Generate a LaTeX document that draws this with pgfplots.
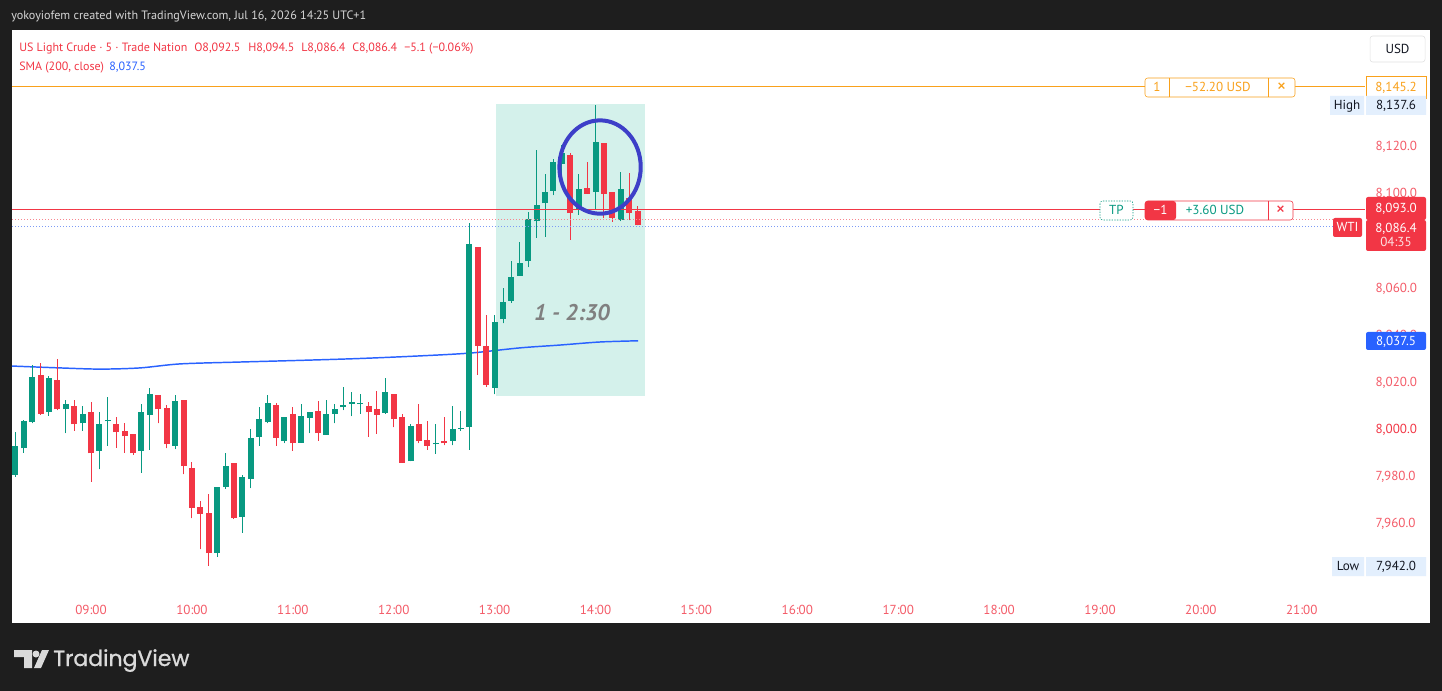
\documentclass[border=0pt]{standalone}
\usepackage{pgfplots}
\pgfplotsset{compat=1.18}
\usepackage{pgfplotstable}
\usepackage{fontspec}
\setmainfont{PT Sans}
\newfontfamily\logofont{Poppins}[FakeBold=1]

\definecolor{tvred}{HTML}{F23645}
\definecolor{tvgreen}{HTML}{089981}
\definecolor{tickred}{HTML}{F45B68}
\definecolor{tvblue}{HTML}{2962FF}
\definecolor{tvorange}{HTML}{F9A11B}
\definecolor{tealbg}{HTML}{D4F1EB}
\definecolor{circ}{HTML}{3D3FC8}
\definecolor{bgdark}{HTML}{1E1E1E}
\definecolor{hdrgray}{HTML}{D6D6D6}
\definecolor{lblue}{HTML}{E3EFFD}
\definecolor{dotblue}{HTML}{7D9BF5}
\definecolor{ink}{HTML}{131722}

% 5-minute candles, t = minutes after 08:00
\pgfplotstableread{
t O H L C
15 7980.5 7998.9 7979.8 7992.8
20 7991.8 8003.8 7990.0 8003.5
25 8003.0 8027.1 8002.4 8021.9
35 8007.1 8022.5 8005.7 8021.5
45 8008.3 8012.3 7998.2 8010.6
55 8002.4 8009.8 7999.3 8006.4
65 7990.8 8007.3 7982.9 8002.1
70 8003.2 8013.7 7992.8 8003.5
90 7990.8 8010.6 7981.5 8007.2
95 8006.1 8017.4 7991.3 8014.8
110 7992.8 8014.4 7991.5 8011.8
135 7947.6 7975.3 7945.9 7975.3
140 7975.3 7990.0 7974.7 7984.4
150 7962.8 7980.5 7956.0 7979.8
155 7978.7 7999.9 7974.9 7996.3
160 7996.7 8009.2 7992.8 8004.1
165 8002.8 8014.5 8002.4 8011.2
175 7994.9 8005.2 7994.0 8005.2
185 7994.2 8010.5 7994.2 8005.5
190 8004.7 8007.2 7998.2 8007.2
200 7997.6 8012.3 7997.6 8006.2
205 8006.4 8010.6 8002.4 8008.3
210 8009.2 8017.7 8008.0 8010.3
215 8010.5 8015.6 8005.5 8011.3
220 8010.5 8014.7 8006.4 8010.8
235 8006.9 8021.5 8006.4 8015.7
250 7986.4 8002.0 7986.4 8001.3
265 7993.5 8002.0 7989.4 7993.9
275 7994.9 8009.8 7993.1 8000.0
280 8000.1 8007.6 7999.3 8000.6
285 8001.0 8087.5 7991.1 8078.3
300 8017.5 8048.3 8014.7 8045.5
305 8046.5 8059.7 8044.8 8053.7
310 8054.3 8071.4 8053.6 8064.3
315 8064.9 8079.4 8064.9 8070.3
320 8071.2 8092.2 8068.6 8088.9
325 8088.1 8118.3 8081.1 8094.8
330 8095.7 8108.1 8081.6 8100.4
335 8101.1 8114.5 8099.2 8113.1
340 8112.5 8120.5 8108.0 8117.0
350 8092.9 8108.1 8090.8 8101.8
360 8100.6 8137.6 8092.9 8121.8
375 8088.6 8109.1 8088.2 8101.8
}\upbars

\pgfplotstableread{
t O H L C
30 8022.9 8028.1 8006.0 8006.4
40 8020.8 8029.7 8008.0 8008.3
50 8009.8 8012.3 7999.3 8002.0
60 8007.3 8011.6 7977.7 7989.7
75 8002.1 8005.2 7992.1 7998.6
80 7999.2 8002.4 7990.0 7996.9
85 7997.9 7998.0 7989.0 7989.7
100 8014.4 8014.6 8002.4 8008.3
105 8008.8 8010.2 7991.8 7993.6
115 8012.3 8012.5 7980.8 7984.3
120 7983.5 7985.9 7962.1 7966.5
125 7967.1 7969.6 7949.0 7964.0
130 7964.5 7972.4 7942.0 7947.3
145 7985.5 7985.6 7962.0 7962.1
170 8010.3 8010.9 7992.8 7996.2
180 8006.2 8009.2 7990.8 7993.9
195 8007.6 8011.7 7995.0 7998.1
225 8009.8 8011.6 7996.7 8007.1
230 8008.3 8016.2 7997.9 8006.1
240 8014.7 8014.8 8000.7 8004.1
245 8004.9 8006.4 7985.7 7985.7
255 8002.1 8010.5 7993.9 7994.9
260 7995.3 8003.5 7991.1 7992.8
270 7995.0 8005.2 7993.1 7993.9
290 8077.0 8077.2 8022.9 8035.2
295 8035.2 8048.3 8017.9 8018.7
345 8116.2 8116.9 8080.2 8091.5
355 8102.1 8113.4 8099.7 8099.7
365 8121.2 8121.3 8089.4 8099.7
370 8100.4 8100.5 8087.9 8089.4
380 8098.1 8108.5 8088.6 8091.5
385 8092.5 8094.5 8086.4 8086.4
}\downbars

\pgfplotsset{
  wick/.style={only marks, mark=none, mark size=0pt, draw=none, fill=none, forget plot,
    error bars/.cd, y dir=plus, y explicit, error mark=none,
    error bar style={line width=0.75pt, draw=#1}},
  body/.style={only marks, mark=none, mark size=0pt, draw=none, fill=none, forget plot,
    error bars/.cd, y dir=plus, y explicit, error mark=none,
    error bar style={line width=4.5pt, draw=#1}},
}
\tikzset{c/.style={anchor=center, inner sep=0pt, text height=6.6pt, text depth=0pt}}

\begin{document}
\begin{tikzpicture}
\path[use as bounding box] (0,0) rectangle (1081.5pt,-518.25pt);
\begin{scope}[x=0.75pt,y=-0.75pt]
  \fill[bgdark] (0,0) rectangle (1442,691);
  \fill[white] (12,30) rectangle (1430,623);
\end{scope}

\begin{axis}[
  at={(9pt,-444pt)}, anchor=south west,
  scale only axis, width=987pt, height=421.5pt,
  xmin=13.0, xmax=795.6, ymin=7930.87, ymax=8169.21,
  clip=false,
  axis line style={draw=none},
  major tick length=0pt,
  xtick={60,120,...,780},
  xticklabels={09:00,10:00,11:00,12:00,13:00,14:00,15:00,16:00,17:00,18:00,19:00,20:00,21:00},
  ytick={7960,7980,8000,8020,8040,8060,8100,8120},
  yticklabels={{7,960.0},{7,980.0},{\textcolor{tvred}{8,000.0}},{8,020.0},{8,040.0},{8,060.0},{8,100.0},{8,120.0}},
  yticklabel pos=right,
  ticklabel style={font=\fontsize{9.8}{11}\selectfont, text=tickred, inner sep=0pt, text depth=0pt},
  yticklabel style={anchor=west, xshift=35.5pt},
  xticklabel style={anchor=north, yshift=-9.4pt},
]
% time-range box
\fill[tealbg] (axis cs:300.8,8014.0) rectangle (axis cs:389.4,8137.8);
\node[font=\fontsize{17}{20}\selectfont\bfseries\itshape, text=black!50] at (axis cs:346,8049.2) {1 - 2:30};

% SMA (200, close)
\addplot[tvblue, line width=1.1pt, smooth] coordinates {
 (13.0,8026.7) (41.6,8025.9) (65.4,8025.4) (89.1,8025.9) (112.9,8027.6)
 (148.6,8028.4) (184.3,8029.1) (220.0,8029.9) (255.6,8031.0) (285.4,8032.2)
 (315.1,8034.4) (338.9,8035.6) (362.7,8036.9) (385.3,8037.4)};

% wicks
\addplot[wick=tvgreen] table[x=t, y=L, y error expr=\thisrow{H}-\thisrow{L}] {\upbars};
\addplot[wick=tvred] table[x=t, y=L, y error expr=\thisrow{H}-\thisrow{L}] {\downbars};
% bodies
\addplot[body=tvgreen] table[x=t, y=O, y error expr={max(\thisrow{C}-\thisrow{O},0.45)}] {\upbars};
\addplot[body=tvred] table[x=t, y=C, y error expr={max(\thisrow{O}-\thisrow{C},0.45)}] {\downbars};

% order / price lines
\draw[tvorange, line width=0.75pt] (axis cs:13,8145.2) -- (axis cs:817.6,8145.2);
\draw[tvred, line width=0.75pt] (axis cs:13,8093.0) -- (axis cs:817.6,8093.0);
\draw[tvred!60, line width=0.75pt, dash pattern=on 0.75pt off 1.5pt] (axis cs:13,8089.0) -- (axis cs:798.6,8089.0);
\draw[dotblue, line width=0.75pt, dash pattern=on 0.75pt off 1.5pt] (axis cs:13,8085.8) -- (axis cs:798.6,8085.8);

% highlight circle
\draw[circ, line width=3pt] (axis cs:362.7,8111.1) ellipse [x radius=30.5pt, y radius=35pt];
\end{axis}

\begin{scope}[x=0.75pt,y=-0.75pt, every node/.style={inner sep=0pt}]
  % header
  \node[anchor=base west, text=hdrgray, font=\fontsize{9.1}{11}\selectfont] at (11,20)
    {yokoyiofem created with TradingView.com, Jul 16, 2026 14:25 UTC+1};
  % legend
  \begin{scope}[every node/.append style={anchor=base west, text=tvred, font=\fontsize{9}{11}\selectfont}]
    \node at (19,52) {US Light Crude · 5 · Trade Nation};
    \node at (194,52) {O8,092.5};
    \node at (248,52) {H8,094.5};
    \node at (301,52) {L8,086.4};
    \node at (352,52) {C8,086.4};
    \node at (404,52) {−5.1 (−0.06\%)};
    \node at (19,71) {SMA (200, close)};
    \node[text=tvblue] at (109,71) {8,037.5};
  \end{scope}

  \begin{scope}[every node/.append style={font=\fontsize{9.8}{11}\selectfont}]
  % USD button
  \draw[black!12, fill=white, rounded corners=2pt] (1370,36) rectangle (1425,62);
  \node[c, text=ink] at (1397.5,49) {USD};
  % stop order
  \draw[tvorange, fill=white, rounded corners=2pt] (1145,78) rectangle (1295,97);
  \draw[tvorange] (1169,78) -- (1169,97) (1268,78) -- (1268,97);
  \node[c, text=tvorange] at (1157,87.5) {1};
  \node[c, text=tvorange] at (1218,87.5) {−52.20 USD};
  \node[c, text=tvorange, font=\fontsize{14}{14}\selectfont, text height=7pt] at (1281.5,87.5) {×};
  \draw[tvorange, fill=white] (1366,76) rectangle (1426,98);
  \node[c, text=tvorange] at (1396,87) {8,145.2};
  % high / low
  \fill[lblue] (1330,96) rectangle (1364,115) (1366,96) rectangle (1426,115);
  \node[c, text=ink] at (1347,105.5) {High};
  \node[c, text=ink] at (1396,105.5) {8,137.6};
  \fill[lblue] (1332,557) rectangle (1364,576) (1366,557) rectangle (1426,576);
  \node[c, text=ink] at (1348,566.5) {Low};
  \node[c, text=ink] at (1396,566.5) {7,942.0};
  % take profit
  \draw[tvgreen, fill=white, dash pattern=on 1pt off 1pt, rounded corners=2pt] (1100,201) rectangle (1133,220);
  \node[c, text=tvgreen] at (1116.5,210.5) {TP};
  \draw[tvred, fill=white, rounded corners=2pt] (1145,201) rectangle (1293,220);
  \fill[tvred, rounded corners=2pt] (1145,201) rectangle (1176,220);
  \draw[tvred] (1268,201) -- (1268,220);
  \node[c, text=white] at (1160.5,210.5) {−1};
  \node[c, text=tvgreen] at (1215,210.5) {+3.60 USD};
  \node[c, text=tvred, font=\fontsize{14}{14}\selectfont, text height=7pt] at (1280.5,210.5) {×};
  % last price labels
  \fill[tvred, rounded corners=1.5pt] (1366,197) rectangle (1426,220);
  \node[c, text=white] at (1396,208.5) {8,093.0};
  \fill[tvred, rounded corners=1.5pt] (1333,218) rectangle (1362,237);
  \node[c, text=white] at (1347.5,227.5) {WTI};
  \fill[tvred, rounded corners=1.5pt] (1366,220) rectangle (1426,251);
  \node[c, text=white] at (1396,228) {8,086.4};
  \node[c, text=white!85!tvred] at (1396,242.5) {04:35};
  \fill[tvblue, rounded corners=1.5pt] (1366,332) rectangle (1426,350);
  \node[c, text=white] at (1396,341) {8,037.5};
  \end{scope}

  % TradingView logo
  \fill[hdrgray!90!white] (14,650) -- (32,650) -- (32,668) -- (24,668) -- (24,657) -- (14,657) -- cycle;
  \fill[hdrgray!90!white] (36,654) circle (3.5);
  \fill[hdrgray!90!white] (42,650) -- (49,650) -- (41,668) -- (34,668) -- cycle;
  \node[anchor=base west, text=hdrgray!90!white, font=\logofont\fontsize{16.5}{20}\selectfont] at (53,666) {TradingView};
\end{scope}
\end{tikzpicture}
\end{document}
